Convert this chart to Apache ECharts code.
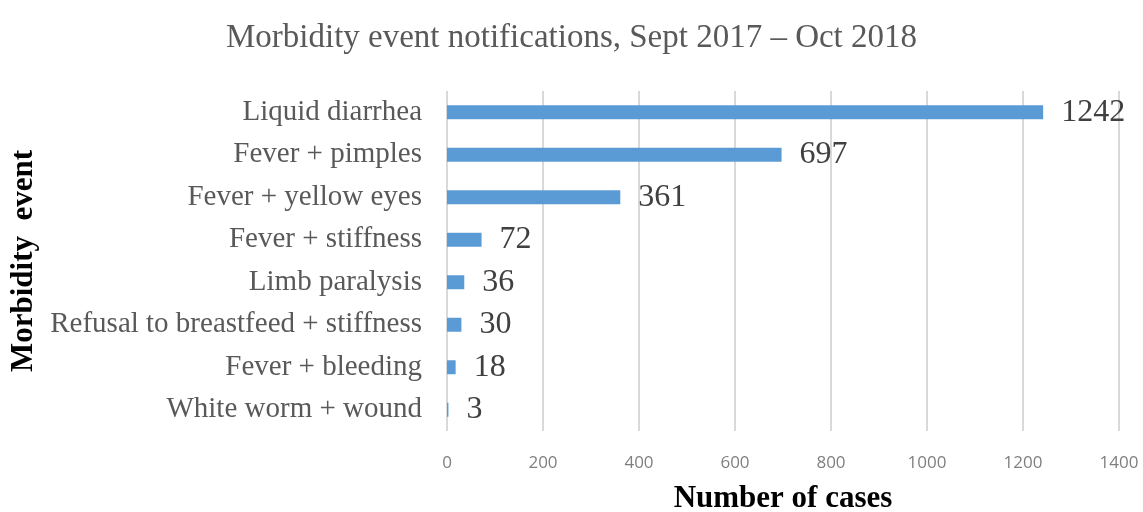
<!DOCTYPE html>
<html>
<head>
<meta charset="utf-8">
<script src="https://cdn.jsdelivr.net/npm/echarts@6/dist/echarts.min.js"></script>
<style>
  html, body { margin: 0; padding: 0; background: #fff; }
  #main { width: 1143px; height: 512px; }
</style>
</head>
<body>
<div id="main"></div>
<script>
const categories = [
  "Liquid diarrhea",
  "Fever + pimples",
  "Fever + yellow eyes",
  "Fever + stiffness",
  "Limb paralysis",
  "Refusal to breastfeed + stiffness",
  "Fever + bleeding",
  "White worm + wound"
];
const cases = [1242, 697, 361, 72, 36, 30, 18, 3];

const serif = "'Liberation Serif', 'DejaVu Serif', serif";

let option = {
  animation: false,
  title: {
    text: "Morbidity event notifications, Sept 2017 – Oct 2018",
    left: "center",
    top: 17,
    textStyle: {
      fontFamily: serif,
      fontSize: 33,
      fontWeight: "normal",
      color: "#595959"
    }
  },
  grid: {
    left: 447,
    right: 24,
    top: 91,
    bottom: 81,
    containLabel: false,
    outerBoundsMode: "none"
  },
  xAxis: {
    type: "value",
    min: 0,
    max: 1400,
    interval: 200,
    name: "Number of cases",
    nameLocation: "middle",
    nameGap: 52,
    nameTextStyle: {
      fontFamily: serif,
      fontSize: 31,
      fontWeight: "bold",
      color: "#000"
    },
    axisLine: { show: false },
    axisTick: { show: false },
    axisLabel: {
      margin: 24,
      fontFamily: "'Open Sans', sans-serif",
      fontSize: 17,
      color: "#7f7f7f",
      formatter: function (v) { return String(v); }
    },
    splitLine: {
      lineStyle: { color: "#d9d9d9", width: 2 }
    }
  },
  yAxis: {
    type: "category",
    data: categories,
    inverse: true,
    name: "Morbidity  event",
    nameLocation: "middle",
    nameGap: 404,
    nameRotate: 90,
    nameTextStyle: {
      fontFamily: serif,
      fontSize: 31,
      fontWeight: "bold",
      color: "#000"
    },
    axisLine: { show: false },
    axisTick: { show: false },
    axisLabel: {
      margin: 25,
      fontFamily: serif,
      fontSize: 29,
      color: "#595959"
    }
  },
  series: [
    {
      type: "bar",
      data: cases,
      barWidth: 14,
      itemStyle: { color: "#5b9bd5" },
      label: {
        show: true,
        position: "right",
        distance: 18,
        fontFamily: serif,
        fontSize: 32,
        color: "#404040"
      }
    }
  ]
};

let chart = echarts.init(document.getElementById("main"));
chart.setOption(option);
</script>
</body>
</html>
